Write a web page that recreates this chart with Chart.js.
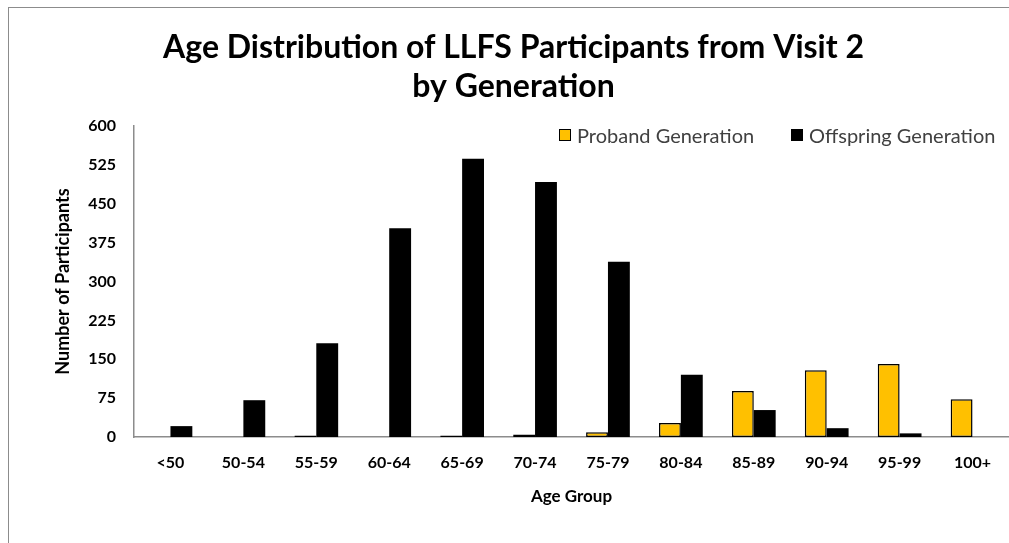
<!DOCTYPE html>
<html>
<head>
<meta charset="utf-8">
<script src="https://cdn.jsdelivr.net/npm/chart.js@4/dist/chart.umd.min.js"></script>
<style>
  html, body { margin: 0; padding: 0; background: #fff; }
  #wrap { position: relative; width: 1009px; height: 543px; overflow: hidden; font-family: Lato, "Open Sans", sans-serif; }
  #frame { position: absolute; left: 8px; top: 7px; width: 1100px; height: 600px; border: 1px solid #8c8c8c; box-sizing: border-box; }
  #chart { position: absolute; left: 0; top: 0; }
  .leg { position: absolute; top: 123px; display: flex; align-items: center; font-size: 20px; color: #404040; white-space: nowrap; }
  .leg i { display: inline-block; width: 12px; height: 12px; margin-right: 6px; box-sizing: border-box; }
</style>
</head>
<body>
<div id="wrap">
  <div id="frame"></div>
  <canvas id="chart" width="1009" height="543"></canvas>
  <div class="leg" style="left:559px"><i style="background:#FFC000;border:1.5px solid #000"></i><span id="leg0"></span></div>
  <div class="leg" style="left:791px"><i style="background:#000"></i><span id="leg1"></span></div>
</div>
<script>
// Age groups and counts per generation
const ageGroups = ['<50', '50-54', '55-59', '60-64', '65-69', '70-74', '75-79', '80-84', '85-89', '90-94', '95-99', '100+'];
const seriesNames = ['Proband Generation', 'Offspring Generation'];
const probandCounts = [0, 0, 3, 0, 3, 5, 9, 27, 89, 129, 141, 73];
const offspringCounts = [21, 71, 181, 403, 537, 492, 338, 120, 52, 17, 7, 0];
const yTicks = [0, 75, 150, 225, 300, 375, 450, 525, 600];

const FONT = 'Lato, "Open Sans", sans-serif';

document.getElementById('leg0').textContent = seriesNames[0];
document.getElementById('leg1').textContent = seriesNames[1];

new Chart(document.getElementById('chart'), {
  type: 'bar',
  data: {
    labels: ageGroups,
    datasets: [
      {
        label: seriesNames[0],
        data: probandCounts,
        backgroundColor: '#FFC000',
        borderColor: '#000000',
        borderWidth: 1.5,
        borderSkipped: false
      },
      {
        label: seriesNames[1],
        data: offspringCounts,
        backgroundColor: '#000000',
        borderColor: '#000000',
        borderWidth: 0
      }
    ]
  },
  options: {
    responsive: false,
    animation: false,
    layout: { padding: { left: 16, top: 7, right: -2, bottom: 36 } },
    datasets: { bar: { barPercentage: 1.0, categoryPercentage: 0.6 } },
    plugins: {
      title: {
        display: true,
        text: ['Age Distribution of LLFS Participants from Visit 2', 'by Generation'],
        color: '#000',
        font: { family: FONT, size: 32, weight: 'bold', lineHeight: 1.22 },
        padding: { top: 21, bottom: 20 }
      },
      legend: { display: false },
      tooltip: { enabled: false }
    },
    scales: {
      x: {
        grid: { display: false, drawTicks: false },
        border: { display: true, color: '#8c8c8c', width: 1.5 },
        ticks: { color: '#000', font: { family: FONT, size: 16, weight: 'bold' }, padding: 16, maxRotation: 0 },
        title: { display: true, text: 'Age Group', color: '#000', font: { family: FONT, size: 17, weight: 'bold' }, padding: { top: 8, bottom: 0 } },
        afterFit: s => { s.height = 70; }
      },
      y: {
        min: 0,
        max: 600,
        afterBuildTicks: s => { s.ticks = yTicks.map(v => ({ value: v })); },
        grid: { display: false, drawTicks: false },
        border: { display: true, color: '#8c8c8c', width: 1.5 },
        ticks: { color: '#000', font: { family: FONT, size: 16, weight: 'bold' }, padding: 18 },
        title: { display: true, text: 'Number of Participants', color: '#000', font: { family: FONT, size: 18, weight: 'bold' }, padding: { top: 36, bottom: 0 } },
        afterFit: s => { s.width = 118; }
      }
    }
  }
});
</script>
</body>
</html>
